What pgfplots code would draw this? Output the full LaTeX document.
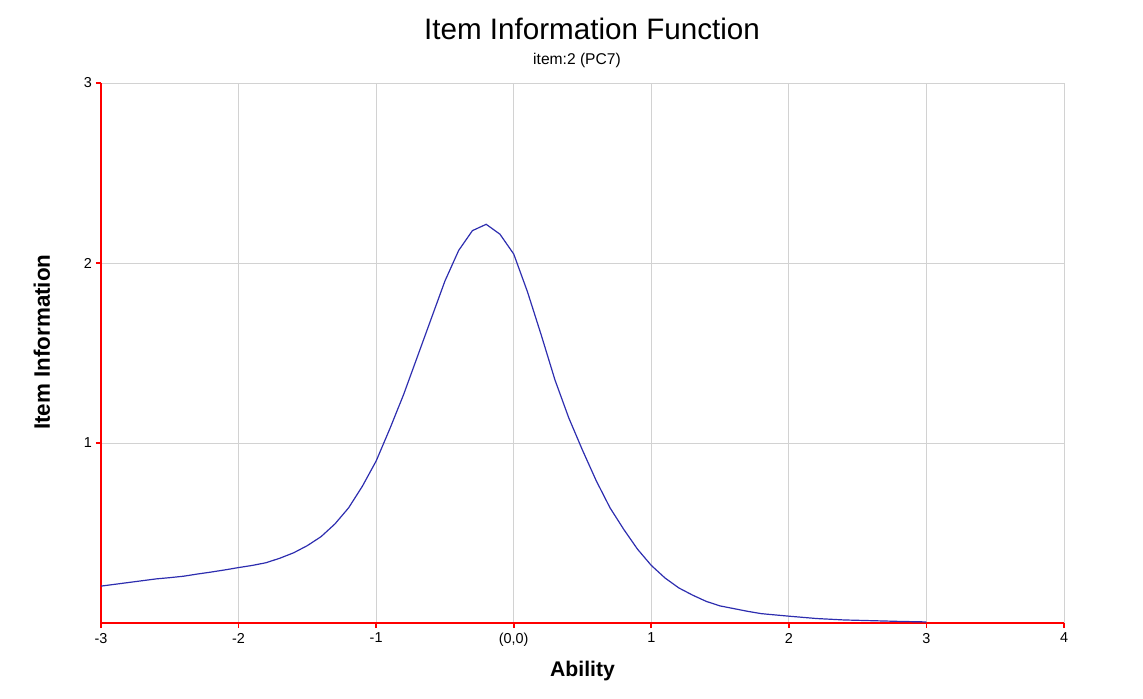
\documentclass[border=0pt]{standalone}
\usepackage{fontspec}
\setmainfont{Liberation Sans}
\usepackage{pgfplots}
\pgfplotsset{compat=1.18}
\definecolor{gridgray}{RGB}{210,210,210}
\definecolor{curveblue}{RGB}{45,45,175}
\begin{document}
\begin{tikzpicture}[x=1pt,y=1pt]
\useasboundingbox (-50.5,-37.5) rectangle (521,311.5);
\begin{axis}[
  at={(0,0)}, anchor=south west,
  scale only axis, width=481.5pt, height=270pt,
  xmin=-3, xmax=4, ymin=0, ymax=3,
  axis x line=bottom, axis y line=left,
  axis line style={draw=red, line width=1pt, -},
  xtick={-3,-2,-1,0,1,2,3,4},
  xticklabels={-3,-2,-1,(0,0),1,2,3,4},
  ytick={1,2,3},
  tick style={draw=red, line width=0.9pt},
  tick align=outside, major tick length=2.5pt,
  grid=major, grid style={gridgray, line width=0.5pt},
  ticklabel style={font=\fontsize{7.2}{8}\selectfont},
  xticklabel style={yshift=1pt},
  yticklabel style={xshift=1.5pt},
  /pgf/number format/assume math mode=true,
  xlabel={Ability},
  xlabel style={at={(axis description cs:0.5,0)}, anchor=center, yshift=-24pt, font=\bfseries\fontsize{10.6}{12}\selectfont},
  ylabel={Item Information},
  ylabel style={at={(axis description cs:-0.0613,0.52)}, anchor=center, font=\bfseries\fontsize{11.2}{13}\selectfont},
  clip=false,
]
\addplot[curveblue, line width=0.6pt] coordinates {
(-3.0,0.205) (-2.9,0.215) (-2.8,0.225) (-2.7,0.235) (-2.6,0.245)
(-2.5,0.252) (-2.4,0.260) (-2.3,0.272) (-2.2,0.283) (-2.1,0.295)
(-2.0,0.308) (-1.9,0.320) (-1.8,0.335) (-1.7,0.360) (-1.6,0.390)
(-1.5,0.430) (-1.4,0.480) (-1.3,0.550) (-1.2,0.640) (-1.1,0.760)
(-1.0,0.900) (-0.9,1.080) (-0.8,1.270) (-0.7,1.480) (-0.6,1.690)
(-0.5,1.900) (-0.4,2.070) (-0.3,2.180) (-0.2,2.215) (-0.1,2.160)
(0.0,2.050) (0.1,1.840) (0.2,1.600) (0.3,1.350) (0.4,1.140)
(0.5,0.960) (0.6,0.790) (0.7,0.640) (0.8,0.520) (0.9,0.410)
(1.0,0.320) (1.1,0.250) (1.2,0.195) (1.3,0.155) (1.4,0.120)
(1.5,0.095) (1.6,0.080) (1.7,0.065) (1.8,0.052) (1.9,0.045)
(2.0,0.038) (2.2,0.025) (2.4,0.017) (2.6,0.013) (2.8,0.009) (3.0,0.006)
};
\end{axis}
\node[anchor=base, font=\fontsize{14.8}{16}\selectfont] at (245.5,291.5) {Item Information Function};
\node[anchor=center, font=\fontsize{7.8}{9}\selectfont] at (238,281.5) {item:2 (PC7)};
\end{tikzpicture}
\end{document}
